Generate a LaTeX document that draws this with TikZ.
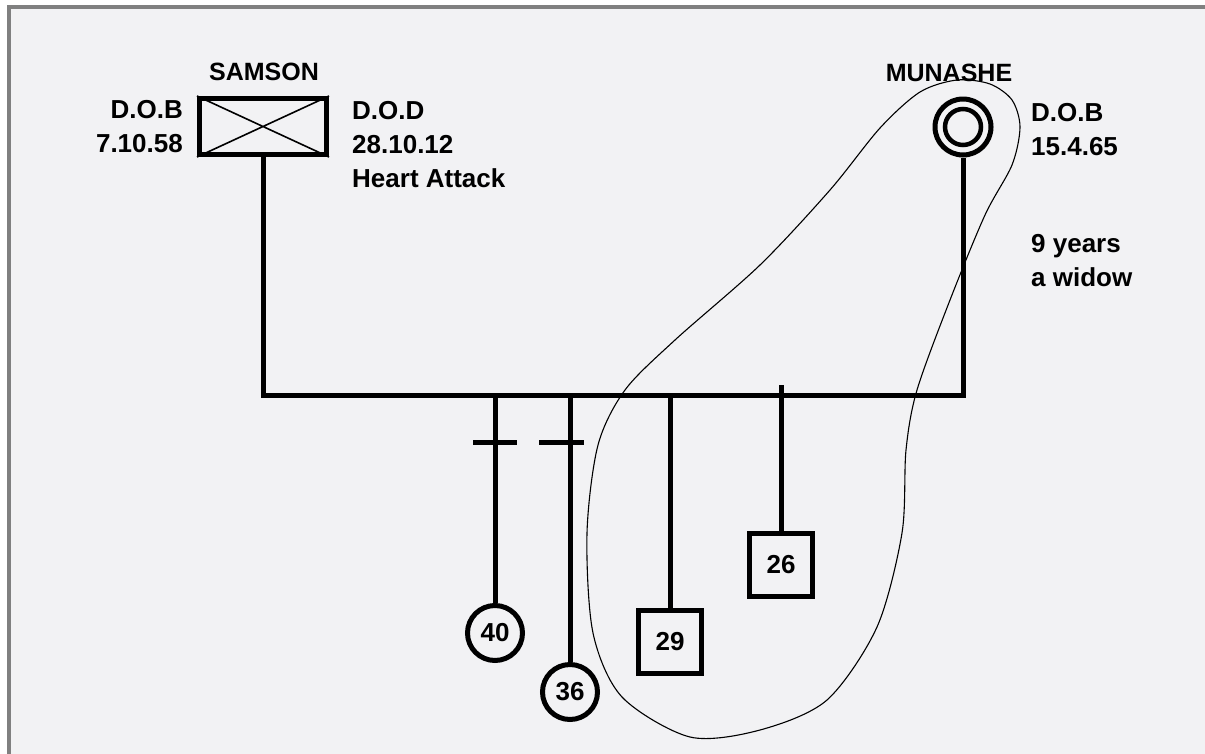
\documentclass[tikz,border=0pt]{standalone}
\usepackage{fontspec}
\setmainfont{Liberation Sans}
\usetikzlibrary{positioning,calc}
\definecolor{paper}{RGB}{242,242,244}
\definecolor{rim}{RGB}{128,128,128}

\begin{document}
\begin{tikzpicture}[x=1pt,y=-1pt,every node/.style={font=\fontsize{26}{34}\selectfont\bfseries,inner sep=0pt},
 line/.style={line width=5pt,line join=miter},
 male/.style={draw,line width=5pt,minimum width=63pt,minimum height=63pt},
 female/.style={draw,circle,line width=5pt,minimum size=55pt},
 pname/.style={anchor=base,font=\fontsize{25}{30}\selectfont\bfseries},
 note/.style={align=left,anchor=north west}]
\useasboundingbox(0,0)rectangle(1205,753);
\fill[white](0,0)rectangle(1215,760);\fill[paper](11,9)rectangle(1215,760);
\fill[rim](7,5)rectangle(1215,9);\fill[rim](7,5)rectangle(11,760);
% parents
\node[draw,line width=5pt,minimum width=127pt,minimum height=56pt](samson)at(263,126.5){};
\draw[line width=1.6pt](samson.north west)--(samson.south east)(samson.north east)--(samson.south west);
\node[female,minimum size=56pt](munashe)at(963,127){};
\draw[line width=4.5pt](munashe.center)circle[radius=18pt];
\node[pname](sname)at(264,80){SAMSON};\node[pname](mname)at(949,81){MUNASHE};
\node[align=right,anchor=north east](sdob)at(183,100){D.O.B\\7.10.58};
\node[note](sdod)at(352,101){D.O.D\\28.10.12\\Heart Attack};
\node[note](mdob)at(1031,103){D.O.B\\15.4.65};
\node[note](widow)at(1031,234){9 years\\a widow};
% children
\node[female](c40)at(495,633){40};\node[female](c36)at(570,692){36};
\node[male](c29)at(670,642){29};\node[male](c26)at(781,565){26};
\coordinate(ml)at(263,395);\coordinate(mr)at(963,395);
\draw[line](samson.south)--(ml)--(mr)--(munashe.south);
\draw[line](c40.north)--(c40|-ml);\draw[line](c36.north)--(c36|-ml);
\draw[line](c29.north)--(c29|-ml);\draw[line](c26.north)--(c26|-0,385);
\draw[line](c40|-0,442)++(-22,0)--++(44,0);\draw[line](c36|-0,442)++(-31,0)--++(45,0);
% household
\draw[line width=1.1pt]plot[smooth cycle,tension=0.5]coordinates{(957,80)(990,84)(1012,100)(1020,127)
 (1012,165)(985,215)(950,300)(917,390)(906,450)(902,533)(877,627)(827,700)(760,730)(690,737)
 (622,697)(593,633)(587,533)(598,445)(625,390)(675,340)(760,265)(830,190)(880,128)(920,92)};
\end{tikzpicture}
\end{document}
